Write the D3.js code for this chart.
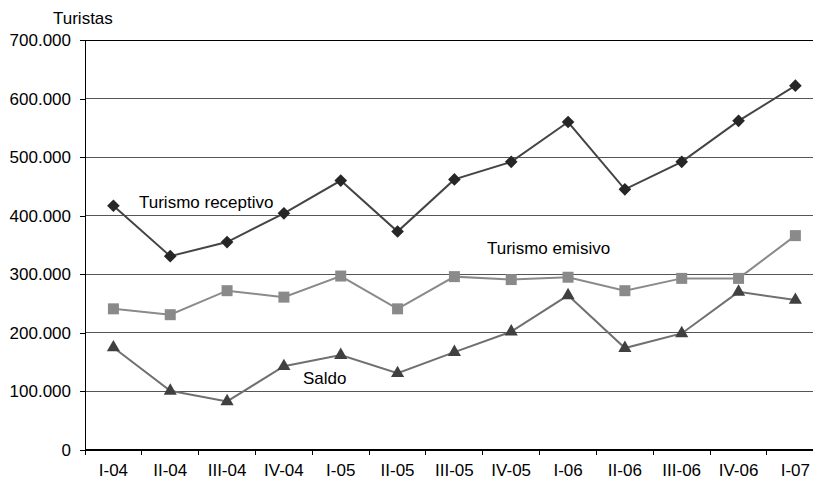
<!DOCTYPE html>
<html><head><meta charset="utf-8">
<script src="https://cdn.jsdelivr.net/npm/d3@7"></script>
<style>
html,body{margin:0;padding:0;background:#fff;}
svg{display:block;font-family:"Liberation Sans",Arial,sans-serif;}
</style></head>
<body>
<svg id="c" width="813" height="480"></svg>
<script>
const categories = ["I-04","II-04","III-04","IV-04","I-05","II-05","III-05","IV-05","I-06","II-06","III-06","IV-06","I-07"];
const receptivo = [417000,331000,355000,404000,460000,373000,462000,492000,560000,445000,492000,562000,622000];
const emisivo = [241000,231000,272000,261000,297000,241000,296000,291000,295000,272000,293000,293000,366000];
const saldo = [175000,101000,83000,143000,162000,131000,167000,202000,264000,174000,199000,270000,256000];
const yTicks = [0,100000,200000,300000,400000,500000,600000,700000];

(function(){
const svg = d3.select("#c");
const left = 85, topY = 40, bottom = 450, bandW = 56.83;
const FS = 17;
const x = d3.scaleBand().domain(categories).range([left, left + bandW*categories.length]).padding(0);
const y = d3.scaleLinear().domain([0,700000]).range([bottom, topY]);
const fmt = v => v === 0 ? "0" : d3.format(",")(v).replace(/,/g, ".");

// gridlines
svg.append("g").selectAll("line").data(yTicks.filter(d=>d>0)).join("line")
  .attr("x1", left).attr("x2", 813).attr("y1", d=>y(d)).attr("y2", d=>y(d))
  .attr("stroke", d => d===700000 ? "#000" : "#555").attr("stroke-width", 1).attr("shape-rendering","crispEdges");

// y axis
const yAxis = d3.axisLeft(y).tickValues(yTicks).tickFormat(fmt).tickSize(5).tickPadding(9);
const gy = svg.append("g").attr("transform", `translate(${left},0)`).call(yAxis);
gy.select(".domain").attr("stroke","#000").attr("stroke-width",1.5).attr("shape-rendering","crispEdges");
gy.selectAll(".tick line").attr("stroke","#000").attr("shape-rendering","crispEdges");
gy.selectAll("text").attr("font-size", FS).attr("fill","#000").attr("font-family","Liberation Sans, Arial, sans-serif");

// x axis
const gx = svg.append("g").attr("transform", `translate(0,${bottom})`);
gx.append("line").attr("x1", left).attr("x2", 813).attr("stroke","#000").attr("stroke-width",1.5).attr("shape-rendering","crispEdges");
gx.selectAll("line.tk").data(categories).join("line").attr("class","tk")
  .attr("x1", d=>x(d)).attr("x2", d=>x(d)).attr("y1",0).attr("y2",5)
  .attr("stroke","#000").attr("shape-rendering","crispEdges");
gx.selectAll("text").data(categories).join("text")
  .attr("x", d=>x(d)+x.bandwidth()/2).attr("y", 26).attr("text-anchor","middle")
  .attr("font-size",FS).attr("fill","#000").text(d=>d);

const cx = (d,i) => x(categories[i]) + x.bandwidth()/2;
const line = d3.line().x((d,i)=>cx(d,i)).y(d=>y(d));

const squareDiamond = { draw(ctx, size){ const r = Math.sqrt(size/2);
  ctx.moveTo(0,-r); ctx.lineTo(r,0); ctx.lineTo(0,r); ctx.lineTo(-r,0); ctx.closePath(); } };

function series(data, lineColor, markColor, symbol, size){
  svg.append("path").datum(data).attr("d", line).attr("fill","none")
    .attr("stroke", lineColor).attr("stroke-width", 2);
  svg.append("g").selectAll("path").data(data).join("path")
    .attr("transform", (d,i)=>`translate(${cx(d,i)},${y(d)})`)
    .attr("d", d3.symbol().type(symbol).size(size)).attr("fill", markColor);
}
series(receptivo, "#444", "#262626", squareDiamond, 80);
series(emisivo, "#8a8a8a", "#8a8a8a", d3.symbolSquare, 121);
series(saldo, "#707070", "#404040", d3.symbolTriangle, 75);

// labels
svg.append("text").attr("x", 53).attr("y", 24).attr("font-size",FS).text("Turistas");
svg.append("text").attr("x", 139).attr("y", 208).attr("font-size",FS).text("Turismo receptivo");
svg.append("text").attr("x", 487).attr("y", 254).attr("font-size",FS).text("Turismo emisivo");
svg.append("text").attr("x", 303).attr("y", 384).attr("font-size",FS).text("Saldo");
})();
</script>
</body></html>
